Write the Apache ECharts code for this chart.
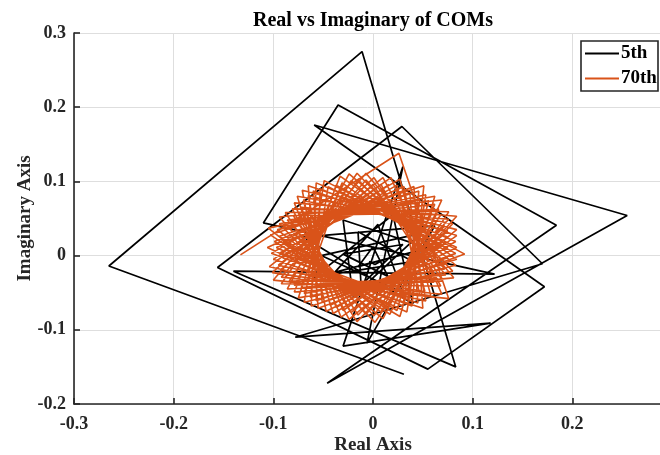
<!DOCTYPE html>
<html>
<head>
<meta charset="utf-8">
<script src="https://cdn.jsdelivr.net/npm/echarts@6/dist/echarts.min.js"></script>
<style>
  html, body { margin: 0; padding: 0; background: #ffffff; }
  #chart { width: 660px; height: 455px; }
</style>
</head>
<body>
<div id="chart"></div>
<script>
// Complex COM values: real and imaginary parts per harmonic
const real5 = [0.031, -0.265, -0.011, 0.083, -0.140, 0.122, -0.110, -0.035, 0.184, -0.046,
  0.255, -0.059, 0.172, 0.055, -0.156, 0.029, 0.170, -0.078, 0.118, -0.030,
  0.030, -0.006, 0.062, -0.070, 0.040, 0.020, -0.060, 0.055, -0.030, -0.020,
  0.048, -0.052, 0.030, 0.005, -0.040, 0.040, -0.015, -0.012, 0.030, -0.030,
  0.015, 0.000, -0.015, 0.010, 0.002, -0.004];
const imag5 = [-0.160, -0.014, 0.275, -0.150, -0.021, -0.025, 0.044, 0.203, 0.041, -0.172,
  0.054, 0.176, -0.042, -0.153, -0.016, 0.174, -0.011, -0.110, -0.091, -0.122,
  0.120, -0.118, 0.040, 0.025, -0.065, 0.055, -0.030, 0.010, 0.048, -0.055,
  0.030, 0.000, -0.050, 0.042, -0.025, -0.008, 0.032, -0.040, 0.015, 0.002,
  -0.028, 0.012, -0.015, -0.006, -0.012, -0.008];

const real70 = [-0.133, 0.026,
  0.076, -0.100, -0.007, 0.081, -0.079, -0.033, 0.084, -0.062, -0.057, 0.083,
  -0.040, -0.076, 0.080, -0.016, -0.088, 0.066, 0.010, -0.105, 0.053, 0.034,
  -0.106, 0.031, 0.053, -0.104, 0.010, 0.068, -0.092, -0.016, 0.080, -0.075,
  -0.037, 0.092, -0.055, -0.065, 0.084, -0.032, -0.079, 0.084, -0.007, -0.094,
  0.069, 0.017, -0.103, 0.051, 0.039, -0.102, 0.027, 0.058, -0.101, 0.001,
  0.070, -0.086, -0.024, 0.083, -0.069, -0.049, 0.084, -0.047, -0.071, 0.084,
  -0.024, -0.081, 0.076, 0.002, -0.094, 0.062, 0.027, -0.099, 0.041, 0.050,
  -0.100, 0.018,
  0.069, -0.092, -0.007, 0.073, -0.072, -0.031, 0.075, -0.057, -0.053, 0.074,
  -0.037, -0.070, 0.072, -0.015, -0.080, 0.059, 0.008, -0.096, 0.047, 0.030,
  -0.097, 0.027, 0.047, -0.095, 0.008, 0.061, -0.084, -0.015, 0.072, -0.069,
  -0.034, 0.083, -0.051, -0.060, 0.075, -0.030, -0.072, 0.076, -0.007, -0.086,
  0.062, 0.015, -0.094, 0.046, 0.035, -0.093, 0.024, 0.052, -0.093, 0.000,
  0.062, -0.079, -0.022, 0.074, -0.063, -0.045, 0.075, -0.043, -0.065, 0.075,
  -0.022, -0.074, 0.068, 0.001, -0.086, 0.056, 0.024, -0.090, 0.037, 0.045,
  -0.091, 0.016];
const imag70 = [0.001, 0.138,
  -0.058, -0.033, 0.111, -0.030, -0.049, 0.107, -0.005, -0.068, 0.098, 0.019,
  -0.078, 0.080, 0.043, -0.089, 0.058, 0.062, -0.085, 0.037, 0.082, -0.076,
  0.011, 0.093, -0.061, -0.015, 0.105, -0.041, -0.038, 0.111, -0.021, -0.057,
  0.095, 0.002, -0.071, 0.094, 0.027, -0.083, 0.071, 0.053, -0.079, 0.052,
  0.075, -0.079, 0.028, 0.094, -0.068, 0.003, 0.103, -0.054, -0.023, 0.105,
  -0.034, -0.045, 0.110, -0.013, -0.063, 0.101, 0.011, -0.075, 0.088, 0.035,
  -0.086, 0.063, 0.059, -0.090, 0.043, 0.080, -0.082, 0.019, 0.093, -0.071,
  -0.005, 0.105,
  -0.052, -0.029, 0.102, -0.026, -0.043, 0.098, -0.003, -0.061, 0.090, 0.018,
  -0.070, 0.074, 0.040, -0.080, 0.054, 0.057, -0.076, 0.035, 0.075, -0.068,
  0.011, 0.085, -0.054, -0.013, 0.096, -0.036, -0.034, 0.102, -0.018, -0.051,
  0.087, 0.003, -0.063, 0.087, 0.025, -0.074, 0.065, 0.049, -0.070, 0.048,
  0.069, -0.070, 0.026, 0.087, -0.060, 0.004, 0.095, -0.048, -0.020, 0.096,
  -0.030, -0.040, 0.101, -0.011, -0.056, 0.093, 0.011, -0.067, 0.081, 0.033,
  -0.077, 0.058, 0.055, -0.081, 0.040, 0.074, -0.074, 0.018, 0.085, -0.064,
  -0.003, 0.096];

const seriesNames = ['5th', '70th'];
const xRange = [-0.3, 0.3];
const yRange = [-0.2, 0.3];
const tickStep = 0.1;

const FONT = 'Liberation Serif, Times New Roman, serif';
const AXIS_COLOR = '#262626';

function pairs(re, im) {
  return re.map((v, i) => [v, im[i]]);
}
function tickText(v) {
  const r = Math.round(v * 10) / 10;
  return r === 0 ? '0' : r.toFixed(1);
}

const chart = echarts.init(document.getElementById('chart'), null, { renderer: 'canvas' });

const axisCommon = {
  type: 'value',
  interval: tickStep,
  nameLocation: 'middle',
  nameMoveOverlap: false,
  nameTextStyle: { fontFamily: FONT, fontWeight: 'bold', fontSize: 19, color: AXIS_COLOR },
  axisLine: { show: true, onZero: false, lineStyle: { color: AXIS_COLOR, width: 1.6 } },
  axisTick: { show: true, inside: true, length: 6, lineStyle: { color: AXIS_COLOR, width: 1.6 } },
  axisLabel: { fontFamily: FONT, fontWeight: 'bold', fontSize: 18, color: AXIS_COLOR, formatter: tickText },
  splitLine: { show: true, lineStyle: { color: '#dedede', width: 1 } }
};

chart.setOption({
  animation: false,
  backgroundColor: '#ffffff',
  grid: { left: 74, right: -12, top: 33, bottom: 51, containLabel: false, outerBoundsMode: 'none' },
  xAxis: Object.assign({}, axisCommon, {
    min: xRange[0], max: xRange[1],
    name: 'Real Axis', nameGap: 32,
    axisLabel: Object.assign({}, axisCommon.axisLabel, { margin: 11 })
  }),
  yAxis: Object.assign({}, axisCommon, {
    min: yRange[0], max: yRange[1],
    name: 'Imaginary Axis', nameGap: 39,
    axisLabel: Object.assign({}, axisCommon.axisLabel, { margin: 8 })
  }),
  legend: {
    orient: 'vertical',
    left: 581, top: 41, z: 6,
    data: seriesNames.map(n => ({ name: n, icon: 'rect' })),
    itemWidth: 34, itemHeight: 2, itemGap: 6,
    padding: [3, 2, 2, 4],
    borderWidth: 0,
    textStyle: { fontFamily: FONT, fontWeight: 'bold', fontSize: 19, color: '#000000', padding: [0, 0, 0, -3] }
  },
  graphic: [
    {
      // legend frame
      type: 'rect', z: 5, silent: true,
      shape: { x: 581, y: 41, width: 77, height: 50 },
      style: { fill: '#ffffff', stroke: AXIS_COLOR, lineWidth: 1.6 }
    },
    {
      type: 'text', x: 373, y: 11, z: 10,
      style: { text: 'Real vs Imaginary of COMs', align: 'center', verticalAlign: 'top',
        font: 'bold 20px ' + FONT, fill: '#000000' }
    }
  ],
  series: [
    {
      name: seriesNames[0], type: 'line', data: pairs(real5, imag5),
      symbol: 'none', showSymbol: false, smooth: false,
      lineStyle: { color: '#000000', width: 1.7 }, itemStyle: { color: '#000000' }
    },
    {
      name: seriesNames[1], type: 'line', data: pairs(real70, imag70),
      symbol: 'none', showSymbol: false, smooth: false,
      lineStyle: { color: '#D95319', width: 1.6 }, itemStyle: { color: '#D95319' }
    }
  ]
});
</script>
</body>
</html>
